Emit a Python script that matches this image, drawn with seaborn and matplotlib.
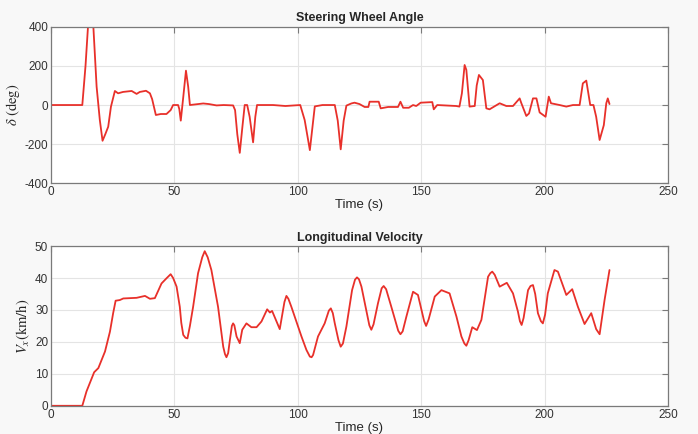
import numpy as np
import pandas as pd
import seaborn as sns
import matplotlib.pyplot as plt

# steering wheel angle trace (deg)
t_delta = [0, 12.7, 14.0, 15.1, 15.6, 16.6, 17.1, 18.5, 19.8, 20.9,
           22.0, 23.2, 24.3, 25.9, 27.2, 29.2, 32.7, 34.7, 36.0, 38.5,
           40.1, 41.0, 42.5, 44.5, 46.8, 48.5, 49.5, 51.5, 52.0, 52.6,
           53.6, 54.7, 55.6, 56.3, 61.7, 64.0, 67.1, 70.0, 73.8, 74.6,
           75.5, 76.5, 77.5, 78.5, 79.5, 80.5, 81.9, 82.8, 83.5, 90.0,
           95.0, 101.0, 102.8, 104.9, 106.9, 110.0, 115.0, 116.2, 117.4, 118.6,
           119.7, 121.7, 123.0, 125.0, 127.1, 128.6, 129.1, 132.8, 133.6, 136.6,
           140.6, 141.6, 142.7, 145.0, 146.7, 148.0, 149.8, 154.5, 155.1, 156.5,
           164.2, 165.5, 166.5, 167.6, 168.3, 169.6, 171.7, 172.5, 173.4, 175.0,
           176.4, 177.7, 181.8, 184.5, 187.2, 189.9, 190.6, 192.6, 193.7, 195.3,
           196.7, 198.0, 200.4, 201.7, 202.6, 206.1, 208.8, 211.5, 214.2, 215.5,
           216.9, 218.5, 219.8, 220.9, 222.3, 224.0, 225.0, 225.6, 226.3]
delta = [0, 0, 200, 420, 430, 430, 420, 94, -77, -183,
         -150, -111, -9, 72, 60, 67, 72, 57, 67, 73,
         60, 30, -51, -46, -46, -26, 0, 0, -20, -80,
         40, 176, 94, 0, 8, 5, -2, 0, -2, -26,
         -150, -245, -120, 0, 0, -60, -191, -60, 0, 0,
         -5, 0, -77, -231, -7, 0, 0, -80, -227, -80,
         -3, 8, 12, 5, -10, -10, 17, 17, -17, -10,
         -10, 17, -14, -14, 0, -5, 12, 15, -22, 0,
         -5, -8, 60, 205, 180, -8, -5, 100, 154, 128,
         -17, -22, 9, -5, -5, 34, 9, -56, -43, 34,
         34, -38, -60, 43, 9, 0, -8, 0, 0, 111,
         125, 0, 0, -60, -179, -103, 9, 34, 5]

# longitudinal velocity trace (km/h)
t_vx = [0, 12.7, 14.4, 16.5, 17.5, 19.2, 21.9, 23.9, 25.2, 26.2,
        27.9, 29.3, 34.7, 38.1, 40.1, 42.1, 44.8, 46.8, 48.5, 49.5,
        50.9, 52.2, 52.8, 53.6, 54.5, 55.3, 56.3, 57.6, 59.6, 61.3,
        62.3, 63.5, 65.0, 67.7, 69.8, 70.5, 71.1, 71.8, 72.5, 73.3,
        73.8, 74.3, 75.2, 76.5, 77.5, 79.2, 81.2, 83.3, 85.3, 87.6,
        88.7, 89.6, 92.7, 94.6, 95.4, 96.2, 97.4, 101.5, 103.5, 104.9,
        105.6, 106.2, 108.2, 110.9, 112.6, 113.4, 114.2, 115.0, 116.5, 117.4,
        118.3, 119.7, 122.0, 123.2, 124.0, 124.8, 125.8, 129.0, 129.8, 130.7,
        132.5, 134.0, 134.8, 135.8, 137.9, 140.7, 141.6, 142.5, 144.0, 146.7,
        148.7, 151.2, 152.0, 153.0, 155.5, 158.2, 161.5, 164.3, 166.3, 167.5,
        168.3, 169.2, 170.7, 172.6, 174.4, 177.1, 178.0, 178.8, 179.8, 181.8,
        184.7, 187.2, 189.2, 190.0, 190.7, 191.5, 193.3, 194.3, 195.3, 196.2,
        197.3, 198.5, 199.3, 200.2, 201.3, 204.0, 205.4, 208.8, 211.2, 213.5,
        216.2, 218.9, 220.9, 222.3, 224.3, 226.3]
vx = [0, 0, 4.5, 8.6, 10.5, 11.8, 17.0, 23.2, 29.0, 32.9,
      33.1, 33.6, 33.8, 34.4, 33.5, 33.7, 38.3, 39.9, 41.2, 40.0,
      37.3, 31.0, 26.0, 22.2, 21.3, 21.1, 25.0, 31.0, 41.5, 46.5,
      48.4, 46.5, 42.5, 31.0, 18.5, 16.2, 15.2, 16.5, 20.6, 25.0,
      25.8, 25.2, 21.7, 19.6, 23.8, 25.8, 24.6, 24.6, 26.4, 30.2,
      29.2, 29.7, 24.0, 32.5, 34.4, 33.5, 31.0, 21.7, 17.5, 15.4,
      15.2, 15.9, 21.7, 25.8, 29.8, 30.5, 29.0, 25.8, 20.5, 18.5,
      19.5, 24.8, 36.2, 39.5, 40.2, 39.6, 37.3, 25.2, 23.8, 25.5,
      32.1, 36.8, 37.5, 36.5, 31.0, 23.5, 22.4, 23.3, 27.9, 35.7,
      34.7, 26.5, 25.0, 27.0, 34.2, 36.2, 35.2, 27.9, 21.7, 19.5,
      18.8, 20.5, 24.6, 23.7, 26.9, 40.4, 41.5, 42.0, 41.0, 37.3,
      38.5, 35.2, 29.5, 26.5, 25.3, 27.5, 36.2, 37.5, 37.8, 35.0,
      29.0, 26.5, 25.8, 28.5, 35.2, 42.5, 42.0, 34.7, 36.5, 31.0,
      25.6, 29.0, 24.0, 22.4, 33.1, 42.5]

df_delta = pd.DataFrame({"t": t_delta, "v": delta})
df_vx = pd.DataFrame({"t": t_vx, "v": vx})

sns.set_theme(style="white")
plt.rcParams["font.family"] = ["Liberation Sans", "DejaVu Sans"]
plt.rcParams["mathtext.fontset"] = "stix"
plt.rcParams["axes.unicode_minus"] = False

red = "#e8302a"
edge = "#7a7a7a"

fig = plt.figure(figsize=(6.98, 4.34), dpi=100, facecolor="#f8f8f8")
ax1 = fig.add_axes([0.073, 0.578, 0.884, 0.360])
ax2 = fig.add_axes([0.073, 0.065, 0.884, 0.368])

panels = [
    (ax1, df_delta, "Steering Wheel Angle", r"$\delta\ \mathrm{(deg)}$", (-400, 400), [-400, -200, 0, 200, 400]),
    (ax2, df_vx, "Longitudinal Velocity", r"$V_x\mathrm{(km/h)}$", (0, 50), [0, 10, 20, 30, 40, 50]),
]

for ax, d, title, ylab, ylim, yt in panels:
    ax.set_facecolor("white")
    sns.lineplot(data=d, x="t", y="v", ax=ax, color=red, lw=1.3, estimator=None, sort=False)
    ax.set_xlim(0, 250)
    ax.set_ylim(*ylim)
    ax.set_xticks([0, 50, 100, 150, 200, 250])
    ax.set_yticks(yt)
    ax.grid(True, color="#e4e4e4", lw=0.8)
    ax.set_title(title, fontsize=9, fontweight="bold", pad=4)
    ax.set_xlabel("Time (s)", fontsize=9.5, labelpad=1)
    ax.set_ylabel(ylab, fontsize=10.5, labelpad=2)
    ax.tick_params(direction="in", length=4, width=0.8, color=edge,
                   top=True, right=True, labelsize=8.5, labelcolor="#333333", pad=2)
    for s in ax.spines.values():
        s.set_color(edge)
        s.set_linewidth(0.9)

fig.savefig("out.png", dpi=100, facecolor=fig.get_facecolor())
